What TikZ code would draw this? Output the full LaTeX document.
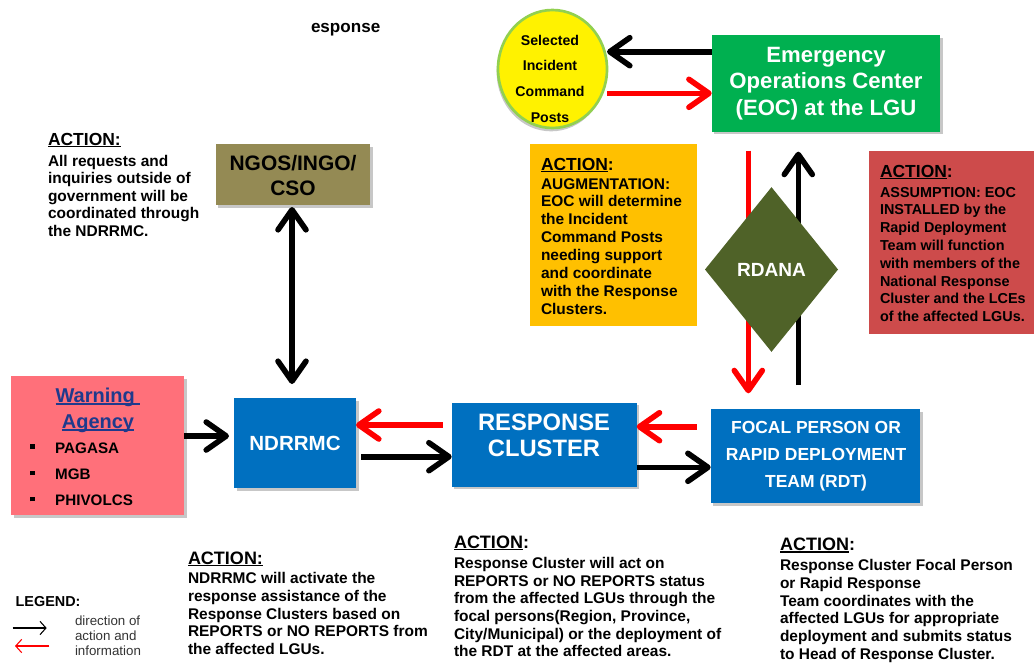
\documentclass[tikz,border=0pt]{standalone}
\usepackage{fontspec}
\setmainfont{Liberation Sans}
\usetikzlibrary{arrows.meta,shapes.geometric,shadows}
\definecolor{ngosc}{HTML}{948A54}
\definecolor{eocc}{HTML}{00B050}
\definecolor{orangec}{HTML}{FFC000}
\definecolor{redc}{HTML}{CD4B4B}
\definecolor{rdanac}{HTML}{4F6228}
\definecolor{warnc}{HTML}{FF707A}
\definecolor{bluec}{HTML}{0070C0}
\definecolor{warnblue}{HTML}{1F3A8C}
\definecolor{ringc}{HTML}{92D050}
\definecolor{arrred}{HTML}{FF0000}
\newcommand{\lft}[1]{\begin{tabular}[t]{@{}l@{}}#1\end{tabular}}
\newcommand{\ctr}[1]{\begin{tabular}[t]{@{}c@{}}#1\end{tabular}}
\newcommand{\fs}[2]{\fontsize{#1pt}{#2pt}\selectfont}
\newcommand{\ulin}[1]{\leavevmode\setbox0=\hbox{#1}\rlap{\rule[-0.11em]{\wd0}{0.075em}}\box0}
\newcommand{\bul}{\rule[3.2pt]{3.2pt}{3.2pt}\hspace{15.5pt}}
\begin{document}
\begin{tikzpicture}[x=0.75pt,y=-0.75pt,
  every node/.style={inner sep=0pt, outer sep=0pt},
  shade box/.style={drop shadow={shadow xshift=2pt,shadow yshift=-2pt,fill=black!55,opacity=.4}},
  boxnode/.style={rectangle, draw=none},
  tleft/.style={anchor=base west, align=left},
  tmid/.style={anchor=base, align=center},
  body/.style={tleft, font=\bfseries\fs{11.6}{13.3}},
  head/.style={tleft, font=\bfseries\fs{13.1}{15}},
  fat/.style={line width=4.2pt, -{Straight Barb[round,length=15pt,width=21pt]}},
  fatboth/.style={line width=4.2pt, {Straight Barb[round,length=15pt,width=21pt]}-{Straight Barb[round,length=15pt,width=21pt]}},
  thinarr/.style={line width=0.8pt, -{Straight Barb[length=4.5pt,width=10pt]}}
]
\useasboundingbox (0,0) rectangle (1034,662);
\clip (0,0) rectangle (1034,662);

% title fragment
\node[tleft, font=\bfseries\fs{12.8}{15}] (title) at (311,32) {esponse};

% boxes
\node[boxnode, fill=ngosc, shade box, minimum width=115.7pt, minimum height=45.75pt] (ngos) at (292.85,174.5) {};
\node[boxnode, fill=eocc, shade box, minimum width=171.2pt, minimum height=72.5pt] (eoc) at (825.85,83.35) {};
\node[ellipse, fill=yellow, draw=ringc, line width=2pt, drop shadow={shadow xshift=-1pt,shadow yshift=-2.5pt,fill=black!55,opacity=.4}, minimum width=81.75pt, minimum height=88.5pt] (cp) at (552.5,69) {};
\node[boxnode, fill=orangec, minimum width=125pt, minimum height=136.5pt] (aug) at (613.35,235) {};
\node[boxnode, fill=redc, minimum width=131.8pt, minimum height=137.5pt] (assume) at (957.15,242.35) {};
\node[boxnode, fill=warnc, shade box, minimum width=129.75pt, minimum height=104.25pt] (warn) at (97.5,445.5) {};
\node[boxnode, fill=bluec, shade box, minimum width=91.5pt, minimum height=67.5pt, text=white, font=\bfseries\fs{15.4}{18}] (ndrrmc) at (295,443) {NDRRMC};
\node[boxnode, fill=bluec, shade box, minimum width=138.75pt, minimum height=63pt] (rc) at (544.2,444.7) {};
\node[boxnode, fill=bluec, shade box, minimum width=157pt, minimum height=70.7pt] (focal) at (815.35,456.15) {};

% texts in boxes
\node[tmid, font=\bfseries\fs{15.7}{18.75}] (ngost) at (293,170.7) {\ctr{NGOS/INGO/\\CSO}};
\node[tmid, font=\bfseries\fs{10.6}{19.3}] (cpt) at (550,45) {\ctr{Selected\\Incident\\Command\\Posts}};
\node[tmid, text=white, font=\bfseries\fs{16.6}{19.9}] (eoct) at (826,62) {\ctr{Emergency\\Operations Center\\(EOC) at the LGU}};
\node[tmid, text=white, font=\bfseries\fs{17.8}{19.5}] (rct) at (544,430) {\ctr{RESPONSE\\CLUSTER}};
\node[tmid, text=white, font=\bfseries\fs{13.1}{20.25}] (focalt) at (816,433.3) {\ctr{FOCAL PERSON OR\\RAPID DEPLOYMENT\\TEAM (RDT)}};
\node[tmid, text=warnblue, font=\bfseries\fs{15}{19.4}] (warnt) at (98,402.7) {\ctr{\ulin{Warning~}\\\ulin{Agency}}};
\node[tleft, font=\bfseries\fs{11.4}{19.7}] (warnl) at (30.3,453) {\lft{\bul PAGASA\\\bul MGB\\\bul PHIVOLCS}};

% action texts
\node[head] (a1h) at (48,145.5) {\ulin{ACTION:}};
\node[body, font=\bfseries\fs{11.6}{13.2}] (a1b) at (48,166) {\lft{All requests and\\inquiries outside of\\government will be\\coordinated through\\the NDRRMC.}};

\node[head] (a2h) at (541,170) {\ulin{ACTION}:};
\node[body, font=\bfseries\fs{11.6}{13.4}] (a2b) at (541,189) {\lft{AUGMENTATION:\\EOC will determine\\the Incident\\Command Posts\\needing support\\and coordinate\\with the Response\\Clusters.}};

\node[head] (a3h) at (880,177.3) {\ulin{ACTION}:};
\node[body, font=\bfseries\fs{10.8}{13.35}] (a3b) at (880,197) {\lft{ASSUMPTION: EOC\\INSTALLED by the\\Rapid Deployment\\Team will function\\with members of the\\National Response\\Cluster and the LCEs\\of the affected LGUs.}};

\node[head, font=\bfseries\fs{13.5}{15}] (a4h) at (188,564) {\ulin{ACTION:}};
\node[body, font=\bfseries\fs{11.6}{13.4}] (a4b) at (188,583.3) {\lft{NDRRMC will activate the\\response assistance of the\\Response Clusters based on\\REPORTS or NO REPORTS from\\the affected LGUs.}};

\node[head, font=\bfseries\fs{13.5}{15}] (a5h) at (454,548.3) {\ulin{ACTION}:};
\node[body] (a5b) at (454,568.3) {\lft{Response Cluster will act on\\REPORTS or NO REPORTS status\\from the affected LGUs through the\\focal persons(Region, Province,\\City/Municipal) or the deployment of\\the RDT at the affected areas.}};

\node[head, font=\bfseries\fs{13.5}{15}] (a6h) at (780,550.7) {\ulin{ACTION}:};
\node[body] (a6b) at (780,570.7) {\lft{Response Cluster Focal Person\\or Rapid Response\\Team coordinates with the\\affected LGUs for appropriate\\deployment and submits status\\to Head of Response Cluster.}};

% connectors
\draw[fat] (eoc.west |- 0,51.7) -- (cp.east |- 0,51.7);
\draw[fat, arrred] (cp.east |- 0,93.3) -- (eoc.west |- 0,93.3);
\draw[fatboth, shorten <=1.5pt, shorten >=10.5pt] (ngos.south -| 292,0) -- (ndrrmc.north -| 292,0);
\draw[fat, shorten >=3.75pt] (warn.east |- 0,436) -- (ndrrmc.west |- 0,436);
\draw[fat, arrred, shorten <=6.75pt] (rc.west |- 0,425) -- (ndrrmc.east |- 0,425);
\draw[fat, shorten <=3.75pt] (ndrrmc.east |- 0,456.7) -- (rc.west |- 0,456.7);
\draw[fat, arrred, shorten <=10.5pt] (focal.west |- 0,426.7) -- (rc.east |- 0,426.7);
\draw[fat] (rc.east |- 0,467.3) -- (focal.west |- 0,467.3);
\draw[fat, arrred, shorten <=14.25pt, shorten >=11.8pt] (eoc.south -| 748.3,0) -- (focal.north -| 748.3,0);
\draw[fat, shorten <=18pt, shorten >=15pt] (focal.north -| 798.3,0) -- (eoc.south -| 798.3,0);

% diamond
\node[diamond, fill=rdanac, minimum width=99.75pt, minimum height=123.5pt, text=white, font=\bfseries\fs{14.3}{17}] (rdana) at (771.5,269.5) {RDANA};

% legend
\node[tleft, font=\bfseries\fs{10.8}{13}] (legend) at (15.7,606.7) {LEGEND:};
\coordinate (l1a) at (12.7,628);
\coordinate (l1b) at (46.7,628);
\coordinate (l2a) at (49.3,646);
\coordinate (l2b) at (15,646);
\draw[thinarr] (l1a) -- (l1b);
\draw[thinarr, arrred] (l2a) -- (l2b);
\node[tleft, text=black!80, font=\fs{10}{11.25}] (legt) at (75,625) {\lft{direction of\\action and\\information}};
\end{tikzpicture}
\end{document}
